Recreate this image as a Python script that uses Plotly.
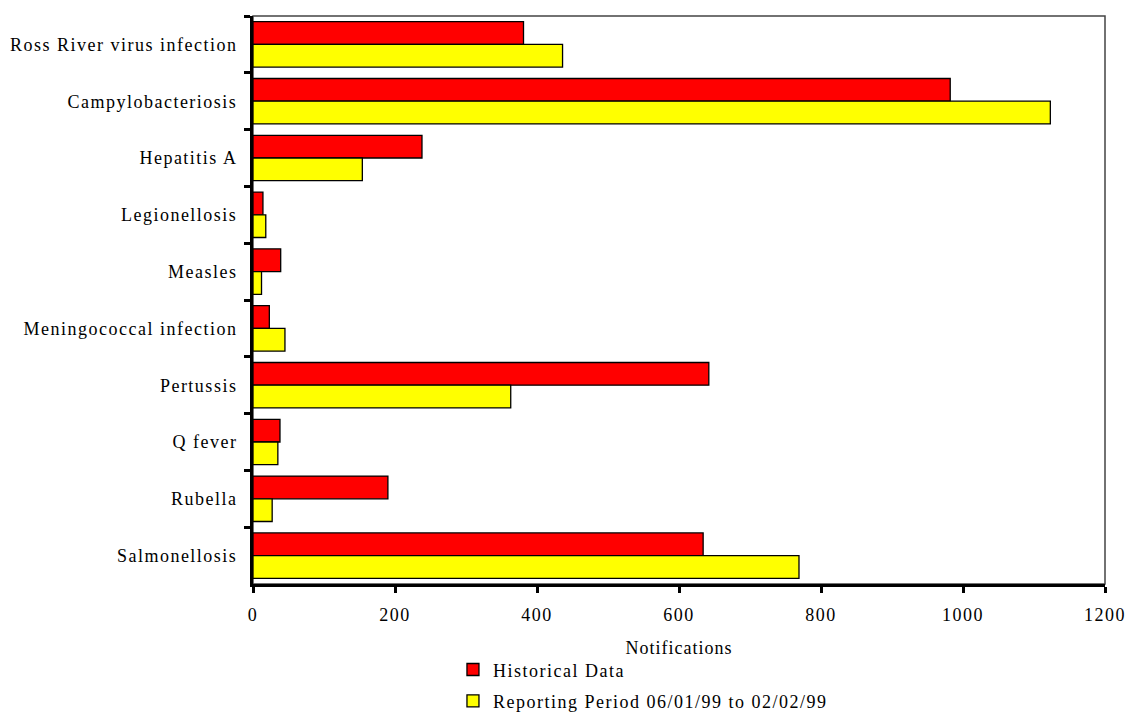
import plotly.graph_objects as go

categories = ["Ross River virus infection", "Campylobacteriosis", "Hepatitis A", "Legionellosis",
              "Measles", "Meningococcal infection", "Pertussis", "Q fever", "Rubella", "Salmonellosis"]
historical = [381, 982, 238, 14, 39, 23, 642, 38, 190, 634]
reporting = [436, 1123, 154, 18, 12, 45, 363, 35, 27, 769]
x_ticks = [0, 200, 400, 600, 800, 1000, 1200]
x_title = "Notifications"

font_family = "Liberation Serif"

fig = go.Figure()
fig.add_trace(go.Bar(
    y=categories, x=historical, orientation="h", name="Historical Data", legendgroup="a",
    marker=dict(color="#FF0000", line=dict(color="black", width=1.3)),
))
fig.add_trace(go.Bar(
    y=categories, x=reporting, orientation="h", name="Reporting Period 06/01/99 to 02/02/99",
    legendgroup="b",
    marker=dict(color="#FFFF00", line=dict(color="black", width=1.3)),
))

fig.update_layout(
    width=1130, height=720,
    margin=dict(l=253, r=25, t=16, b=136),
    paper_bgcolor="white", plot_bgcolor="white",
    barmode="group", bargap=0.2, bargroupgap=0,
    font=dict(family=font_family, size=18, color="black"),
    showlegend=True,
    legend=dict(x=0.2347, xanchor="left", xref="paper", yref="container", y=0.001, yanchor="bottom",
                orientation="v", font=dict(size=18), itemwidth=30, tracegroupgap=5,
                bgcolor="rgba(0,0,0,0)"),
    shapes=[dict(type="rect", xref="paper", yref="paper", x0=0, x1=1, y0=0, y1=1,
                 line=dict(color="#444444", width=1.5), layer="below")],
    annotations=[dict(text=x_title, xref="paper", yref="paper", x=0.5, y=-0.1127,
                      xanchor="center", yanchor="middle", showarrow=False,
                      font=dict(size=18, family=font_family, color="black"))],
)
fig.update_xaxes(
    range=[0, 1200], tickvals=x_ticks, ticktext=[str(v) for v in x_ticks],
    showgrid=False, zeroline=False, automargin=False,
    showline=True, linecolor="black", linewidth=3,
    ticks="outside", ticklen=6, tickwidth=3, tickcolor="black",
    tickfont=dict(size=18), ticklabelstandoff=6,
)
fig.update_yaxes(
    categoryorder="array", categoryarray=categories, autorange="reversed",
    showgrid=False, zeroline=False, automargin=False,
    showline=True, linecolor="black", linewidth=3,
    ticks="outside", ticklen=6, tickwidth=3, tickcolor="black", tickson="boundaries",
    tickfont=dict(size=18), ticklabelstandoff=9,
)

post = """
document.body.style.margin='0';
document.body.style.overflow='hidden';
document.documentElement.style.overflow='hidden';
function sp(){
  document.querySelectorAll('.ytick text').forEach(function(t){t.style.letterSpacing='1.5px';});
  document.querySelectorAll('.xtick text').forEach(function(t){t.style.letterSpacing='1.5px';});
  document.querySelectorAll('.legendtext').forEach(function(t){t.style.letterSpacing='1.5px';});
  document.querySelectorAll('.annotation-text').forEach(function(t){t.style.letterSpacing='1px';});
  document.querySelectorAll('.legend .scrollbox').forEach(function(e){e.removeAttribute('clip-path');});
  document.querySelectorAll('.legend').forEach(function(e){e.removeAttribute('clip-path');});
}
sp();
"""

fig.write_html("out.html", post_script=post, config={"displayModeBar": False})
